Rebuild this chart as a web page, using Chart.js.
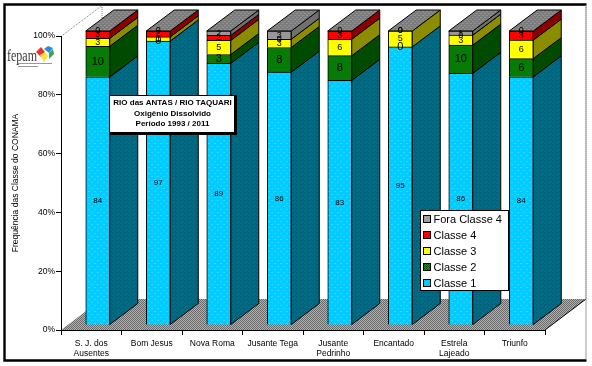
<!DOCTYPE html>
<html>
<head>
<meta charset="utf-8">
<script src="https://cdn.jsdelivr.net/npm/chart.js@4/dist/chart.umd.min.js"></script>
<style>
  html, body { margin: 0; padding: 0; background: #fff; }
  #wrap { width: 592px; height: 366px; }
</style>
</head>
<body>
<div id="wrap"><canvas id="c" width="592" height="366"></canvas></div>
<script>
const categories = [['S. J. dos', 'Ausentes'], 'Bom Jesus', 'Nova Roma', 'Jusante Tega',
  ['Jusante', 'Pedrinho'], 'Encantado', ['Estrela', 'Lajeado'], 'Triunfo'];
const classe1 = [84.4, 96.6, 89.0, 86.0, 83.2, 94.6, 85.6, 84.4];
const classe2 = [10.4, 0, 3.0, 8.4, 8.4, 0, 9.6, 6.2];
const classe3 = [2.7, 1.4, 4.8, 2.8, 5.6, 5.4, 3.4, 6.3];
const classe4 = [2.5, 2.0, 1.7, 0, 2.8, 0, 0, 3.1];
const fora = [0, 0, 1.5, 2.8, 0, 0, 1.4, 0];
const seriesNames = ['Classe 1', 'Classe 2', 'Classe 3', 'Classe 4', 'Fora Classe 4'];
const yTicks = [0, 20, 40, 60, 80, 100];
const titleLines = ['RIO das ANTAS / RIO TAQUARI', 'Oxigênio Dissolvido', 'Período 1993 / 2011'];

// petit motif répété pour imiter le tramage de l'image
function pattern(bg, fg, cells, size) {
    const p = document.createElement('canvas');
    p.width = p.height = size;
    const g = p.getContext('2d');
    g.fillStyle = bg;
    g.fillRect(0, 0, size, size);
    g.fillStyle = fg;
    cells.forEach(c => g.fillRect(c[0], c[1], 1, 1));
    return document.getElementById('c').getContext('2d').createPattern(p, 'repeat');
}
const checker = [[0, 0], [1, 1]];
const sparse = [[1, 1], [4, 4]];
const fronts = [
    pattern('#00ccff', '#66e0ff', sparse, 6),
    pattern('#0c9a0c', '#005f00', checker, 2),
    '#ffff00',
    '#ff0000',
    pattern('#a6a6a6', '#8a8a8a', checker, 2)
];
const sides = [
    pattern('#006f8a', '#005a70', [[0, 0], [1, 1], [1, 3], [3, 1], [2, 2]], 4),
    pattern('#006800', '#002f00', checker, 2),
    pattern('#a8a800', '#707000', checker, 2),
    pattern('#a00000', '#780000', checker, 2),
    pattern('#808080', '#606060', checker, 2)
];
const topFace = pattern('#7c7c7c', '#a8a8a8', [[0, 0], [2, 2]], 4);
const floorFace = pattern('#b0b0b0', '#6a6a6a', checker, 2);
const labelSizes = [8, 11, 9, 9, 9];
const legendSwatches = ['#00ccff', fronts[1], '#ffff00', '#ff0000', '#a0a0a0'];

const DEPTH_X = 28, DEPTH_Y = -21;   // profondeur des barres
const BAR_DX = 6.5, BAR_DY = -5;     // décalage des barres par rapport aux axes
const WALL_X = 41, WALL_Y = -31;     // profondeur du fond

function poly(ctx, pts, fill) {
    ctx.beginPath();
    pts.forEach((p, i) => i ? ctx.lineTo(p[0], p[1]) : ctx.moveTo(p[0], p[1]));
    ctx.closePath();
    ctx.fillStyle = fill;
    ctx.fill();
    ctx.strokeStyle = '#000';
    ctx.lineWidth = 1;
    ctx.stroke();
}

function poly2(ctx, pts, fill) {
    ctx.beginPath();
    pts.forEach((p, i) => i ? ctx.lineTo(p[0], p[1]) : ctx.moveTo(p[0], p[1]));
    ctx.closePath();
    ctx.fillStyle = fill;
    ctx.fill();
}

// sol + lignes du fond, derrière les barres
const wallPlugin = {
    id: 'wall',
    beforeDraw(chart) {
        const ctx = chart.ctx;
        const a = chart.chartArea;
        ctx.save();
        ctx.fillStyle = '#fff';
        ctx.fillRect(0, 0, chart.width, chart.height);
        ctx.strokeStyle = '#777';
        ctx.lineWidth = 1;
        ctx.setLineDash([1, 1]);
        ctx.beginPath();
        ctx.moveTo(a.left + 0.5, a.top);
        ctx.lineTo(a.left + WALL_X, a.top + WALL_Y + 0.5);
        ctx.lineTo(a.right + WALL_X, a.top + WALL_Y + 0.5);
        ctx.lineTo(a.right + WALL_X, a.bottom + WALL_Y);
        ctx.moveTo(a.left + WALL_X, a.top + WALL_Y);
        ctx.lineTo(a.left + WALL_X, a.bottom + WALL_Y);
        ctx.stroke();
        ctx.setLineDash([]);
        ctx.beginPath();
        ctx.moveTo(a.left, a.bottom);
        ctx.lineTo(a.left + WALL_X, a.bottom + WALL_Y);
        ctx.lineTo(a.right + WALL_X, a.bottom + WALL_Y);
        ctx.lineTo(a.right, a.bottom);
        ctx.closePath();
        ctx.fillStyle = floorFace;
        ctx.fill();
        ctx.beginPath();
        ctx.moveTo(a.right, a.bottom);
        ctx.lineTo(a.right + WALL_X, a.bottom + WALL_Y);
        ctx.strokeStyle = '#000';
        ctx.stroke();
        ctx.restore();
    }
};

// faces 3D, calées sur les éléments calculés par Chart.js
const depthPlugin = {
    id: 'depth',
    beforeDatasetsDraw(chart) {
        const ctx = chart.ctx;
        ctx.save();
        ctx.translate(BAR_DX, BAR_DY);
        chart.data.datasets.forEach((ds, d) => {
            chart.getDatasetMeta(d).data.forEach(bar => {
                const r = bar.x + bar.width / 2;
                if (Math.abs(bar.base - bar.y) < 0.01) return;
                poly(ctx, [[r, bar.y], [r + DEPTH_X, bar.y + DEPTH_Y],
                    [r + DEPTH_X, bar.base + DEPTH_Y], [r, bar.base]], sides[d]);
            });
        });
        const last = chart.data.datasets.length - 1;
        chart.getDatasetMeta(last).data.forEach(bar => {
            const l = bar.x - bar.width / 2, r = bar.x + bar.width / 2;
            poly(ctx, [[l, bar.y], [l + DEPTH_X, bar.y + DEPTH_Y],
                [r + DEPTH_X, bar.y + DEPTH_Y], [r, bar.y]], topFace);
        });
    },
    afterDatasetsDraw(chart) {
        const ctx = chart.ctx;
        ctx.textAlign = 'center';
        ctx.textBaseline = 'middle';
        ctx.fillStyle = '#000';
        chart.data.datasets.forEach((ds, d) => {
            ctx.font = labelSizes[d] + 'px "Liberation Sans"';
            chart.getDatasetMeta(d).data.forEach((bar, i) => {
                ctx.fillText(String(Math.round(ds.data[i])), bar.x, (bar.y + bar.base) / 2);
            });
        });
        ctx.restore();
    }
};

// cadre, encadré du titre, légende et logo
const overlayPlugin = {
    id: 'overlay',
    afterDraw(chart) {
        const ctx = chart.ctx;
        ctx.save();

        // encadré titre
        ctx.fillStyle = '#000';
        ctx.fillRect(109, 95, 128, 40);
        ctx.fillStyle = '#fff';
        ctx.fillRect(110, 96, 124, 36);
        ctx.fillStyle = '#000';
        ctx.font = 'bold 8px "Liberation Sans"';
        ctx.textAlign = 'center';
        ctx.textBaseline = 'middle';
        titleLines.forEach((t, i) => ctx.fillText(t, 172.5, [103, 114, 124][i]));

        // légende
        ctx.fillStyle = '#fff';
        ctx.fillRect(421, 210.5, 87.5, 80);
        ctx.strokeStyle = '#000';
        ctx.lineWidth = 1;
        ctx.strokeRect(420.5, 210.5, 88, 80);
        ctx.textAlign = 'left';
        ctx.font = '11px "Liberation Sans"';
        for (let i = seriesNames.length - 1, row = 0; i >= 0; i--, row++) {
            const y = 219 + row * 16;
            ctx.fillStyle = legendSwatches[i];
            ctx.fillRect(423.5, y - 3.5, 7, 7);
            ctx.strokeRect(423.5, y - 3.5, 7, 7);
            ctx.fillStyle = '#000';
            ctx.fillText(seriesNames[i], 433.5, y + 0.5);
        }

        // logo fepam
        ctx.save();
        ctx.translate(7, 61);
        ctx.scale(1, 1.45);
        ctx.fillStyle = '#3b3b3b';
        ctx.font = '12px "Liberation Serif"';
        ctx.textBaseline = 'alphabetic';
        ctx.fillText('fepam', 0, 0);
        ctx.restore();
        poly2(ctx, [[36, 52], [41, 47], [45, 52], [41, 57]], '#e8322a');
        poly2(ctx, [[44, 49], [48, 46], [53, 48], [49, 53]], '#2a8fd8');
        poly2(ctx, [[49, 53], [53, 49], [54, 54], [49, 59]], '#3aa54a');
        poly2(ctx, [[40, 55], [45, 52], [48, 56], [44, 62]], '#ffe23a');
        ctx.fillStyle = '#999';
        ctx.fillRect(18, 63, 34, 1);
        ctx.fillRect(18, 66, 20, 1);

        // cadre extérieur
        ctx.strokeStyle = '#000';
        ctx.lineWidth = 2.4;
        ctx.beginPath();
        ctx.moveTo(586.5, 4.5);
        ctx.lineTo(4.5, 4.5);
        ctx.lineTo(4.5, 360.5);
        ctx.lineTo(586.5, 360.5);
        ctx.stroke();
        ctx.strokeStyle = '#999';
        ctx.lineWidth = 1;
        ctx.beginPath();
        ctx.moveTo(586, 5);
        ctx.lineTo(586, 359);
        ctx.stroke();
        ctx.restore();
    }
};

const seriesValues = [classe1, classe2, classe3, classe4, fora];

new Chart(document.getElementById('c'), {
    type: 'bar',
    data: {
        labels: categories,
        datasets: seriesValues.map((values, i) => ({
            label: seriesNames[i],
            data: values,
            backgroundColor: fronts[i],
            borderColor: '#000',
            borderWidth: 1,
            barThickness: 24,
            clip: false
        }))
    },
    options: {
        responsive: false,
        animation: false,
        layout: { padding: { top: 36, right: 47, left: 0, bottom: 0 } },
        plugins: { legend: { display: false }, tooltip: { enabled: false } },
        scales: {
            x: {
                stacked: true,
                afterFit(scale) { scale.height = 36; },
                border: { color: '#000', width: 1 },
                grid: { drawOnChartArea: false, color: '#000', tickLength: 5, offset: true },
                ticks: {
                    color: '#000',
                    font: { family: 'Liberation Sans', size: 8.5, lineHeight: 1.25 },
                    maxRotation: 0,
                    autoSkip: false,
                    padding: 3
                }
            },
            y: {
                stacked: true,
                min: 0,
                max: 100,
                afterFit(scale) { scale.width = 61; },
                afterBuildTicks(scale) { scale.ticks = yTicks.map(v => ({ value: v })); },
                border: { color: '#000', width: 1 },
                grid: { drawOnChartArea: false, color: '#000', tickLength: 5 },
                title: {
                    display: true,
                    text: 'Frequência das Classe do CONAMA',
                    color: '#000',
                    font: { family: 'Liberation Sans', size: 8.5 },
                    padding: { top: 11, bottom: 0 }
                },
                ticks: {
                    color: '#000',
                    font: { family: 'Liberation Sans', size: 8.5 },
                    padding: 1,
                    callback: v => v + '%'
                }
            }
        }
    },
    plugins: [wallPlugin, depthPlugin, overlayPlugin]
});
</script>
</body>
</html>
